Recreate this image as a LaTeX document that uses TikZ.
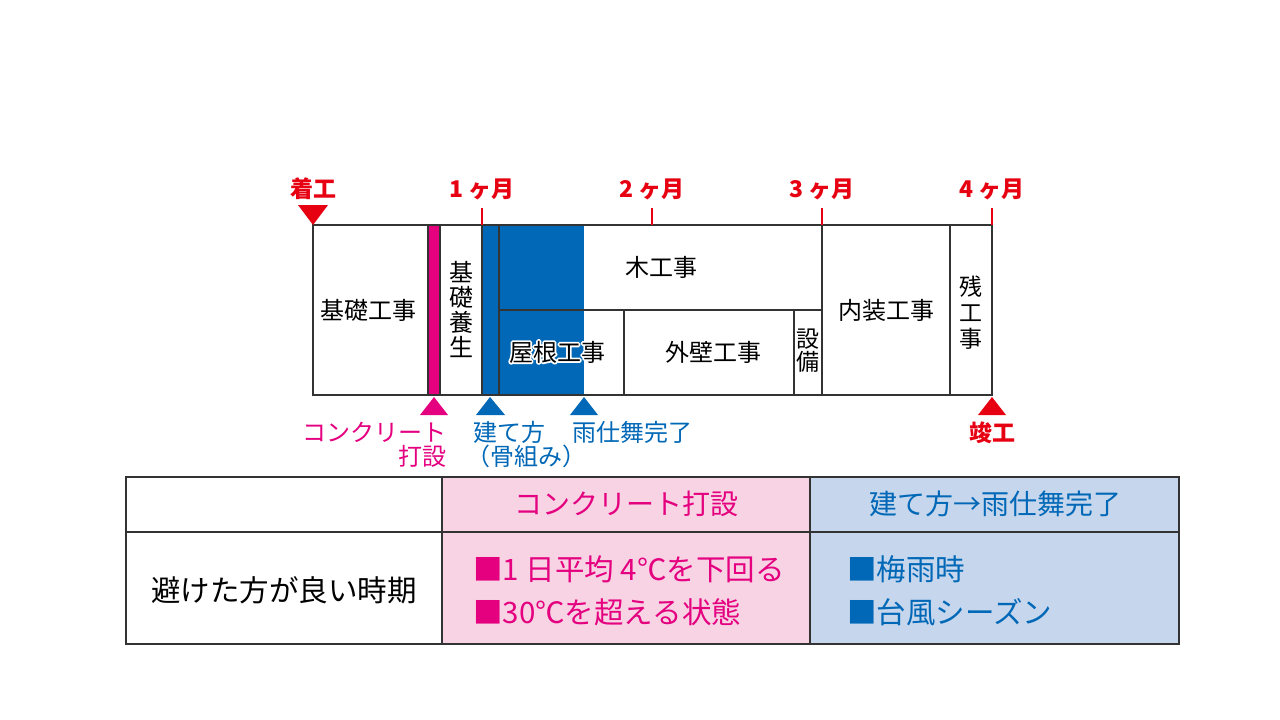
\documentclass[tikz,border=0pt]{standalone}
\usepackage{fontspec}
\setmainfont{Noto Sans CJK JP}
\definecolor{mred}{HTML}{E60012}
\definecolor{mpink}{HTML}{E4007F}
\definecolor{mblue}{HTML}{0068B7}
\definecolor{lpink}{HTML}{F7D3E4}
\definecolor{lblue}{HTML}{C6D6EC}
\definecolor{gline}{HTML}{333333}
\newcommand{\halotext}[1]{\special{pdf:code 2 Tr 3.5 w 1 J 1 j 1 1 1 RG}#1\special{pdf:code 0 Tr}}
\tikzset{
  gl/.style={draw=gline, line width=1.1pt},
  tl/.style={draw=gline, line width=1.4pt},
  tick/.style={draw=mred, line width=1.5pt},
  gtext/.style={font=\fontsize{24}{26}\selectfont, inner sep=0pt},
  vtext/.style={font=\fontsize{24}{25}\selectfont, inner sep=0pt, align=center},
  mlabel/.style={font=\fontsize{23}{25}\selectfont\bfseries, text=mred, inner sep=0pt},
  plabel/.style={font=\fontsize{24}{26}\selectfont, text=mpink, inner sep=0pt},
  blabel/.style={font=\fontsize{24}{26}\selectfont, text=mblue, inner sep=0pt},
  ttext/.style={font=\fontsize{29.5}{32}\selectfont, inner sep=0pt},
  thead/.style={font=\fontsize{28}{30}\selectfont, inner sep=0pt},
}
\begin{document}
\begin{tikzpicture}[x=1pt,y=-1pt]
\useasboundingbox (0,0) rectangle (1280,720);
\fill[white] (0,0) rectangle (1280,720);
% ---- Gantt chart ----
\fill[white] (313,225) rectangle (992,395);
\fill[mpink] (428,225) rectangle (440,395);
\fill[mblue] (482,225) rectangle (584,395);
\draw[gl] (313,225) rectangle (992,395);
\foreach \x in {428,440,482,499,822,950} \draw[gl] (\x,225) -- (\x,395);
\draw[gl] (499,310) -- (822,310);
\foreach \x in {624,794} \draw[gl] (\x,310) -- (\x,395);
% ticks
\foreach \x in {482,652,822,992} \draw[tick] (\x,208) -- (\x,225);
% month labels
\node[mlabel] (m1) at (482,189) {1 ヶ月};
\node[mlabel] (m2) at (652,189) {2 ヶ月};
\node[mlabel] (m3) at (822,189) {3 ヶ月};
\node[mlabel] (m4) at (992,189) {4 ヶ月};
\node[mlabel] (start) at (313,189) {着工};
\fill[mred] (298,205) -- (328,205) -- (313,225) -- cycle;
% gantt texts
\node[gtext] (kiso) at (368,310) {基礎工事};
\node[vtext] (yojo) at (461,309) {基\\礎\\養\\生};
\node[gtext] (moku) at (661,267) {木工事};
\node[gtext, text=white] (yanehalo) at (557,352) {\halotext{屋根工事}};
\node[gtext] (yane) at (557,352) {屋根工事};
\node[gtext] (gaiheki) at (713,352) {外壁工事};
\node[vtext, font=\fontsize{23}{23}\selectfont] (setsubi) at (808,351) {設\\備};
\node[gtext] (naisou) at (886,310) {内装工事};
\node[vtext, font=\fontsize{23}{26}\selectfont] (zan) at (971,313) {残\\工\\事};
% bottom markers
\fill[mpink] (420,415) -- (448,415) -- (434,397) -- cycle;
\fill[mblue] (476,415) -- (505,415) -- (490,397) -- cycle;
\fill[mblue] (570,415) -- (598,415) -- (584,397) -- cycle;
\fill[mred] (978,415) -- (1006,415) -- (992,397) -- cycle;
\node[plabel, anchor=east] (conc1) at (447,432) {コンクリート};
\node[plabel, anchor=east] (conc2) at (447,456) {打設};
\node[blabel, anchor=west] (tate1) at (473,432) {建て方};
\node[blabel, anchor=west] (tate2) at (466,456) {（骨組み）};
\node[blabel, anchor=west] (ame) at (572,432) {雨仕舞完了};
\node[mlabel] (end) at (992,433) {竣工};
% ---- Table ----
\fill[white] (126,477) rectangle (442,644);
\fill[lpink] (442,477) rectangle (810,644);
\fill[lblue] (810,477) rectangle (1179,644);
\draw[tl] (126,477) rectangle (1179,644);
\draw[tl] (126,532) -- (1179,532);
\draw[tl] (442,477) -- (442,644);
\draw[tl] (810,477) -- (810,644);
\node[thead, text=mpink] (h1) at (626,504) {コンクリート打設};
\node[thead, text=mblue] (h2) at (995,504) {建て方→雨仕舞完了};
\node[ttext] (rowh) at (284,590) {避けた方が良い時期};
\node[ttext, text=mpink, anchor=west] (p1) at (473,569) {■1 日平均 4℃を下回る};
\node[ttext, text=mpink, anchor=west] (p2) at (473,612) {■30℃を超える状態};
\node[ttext, text=mblue, anchor=west] (b1) at (847,569) {■梅雨時};
\node[ttext, text=mblue, anchor=west] (b2) at (847,612) {■台風シーズン};
\end{tikzpicture}
\end{document}
